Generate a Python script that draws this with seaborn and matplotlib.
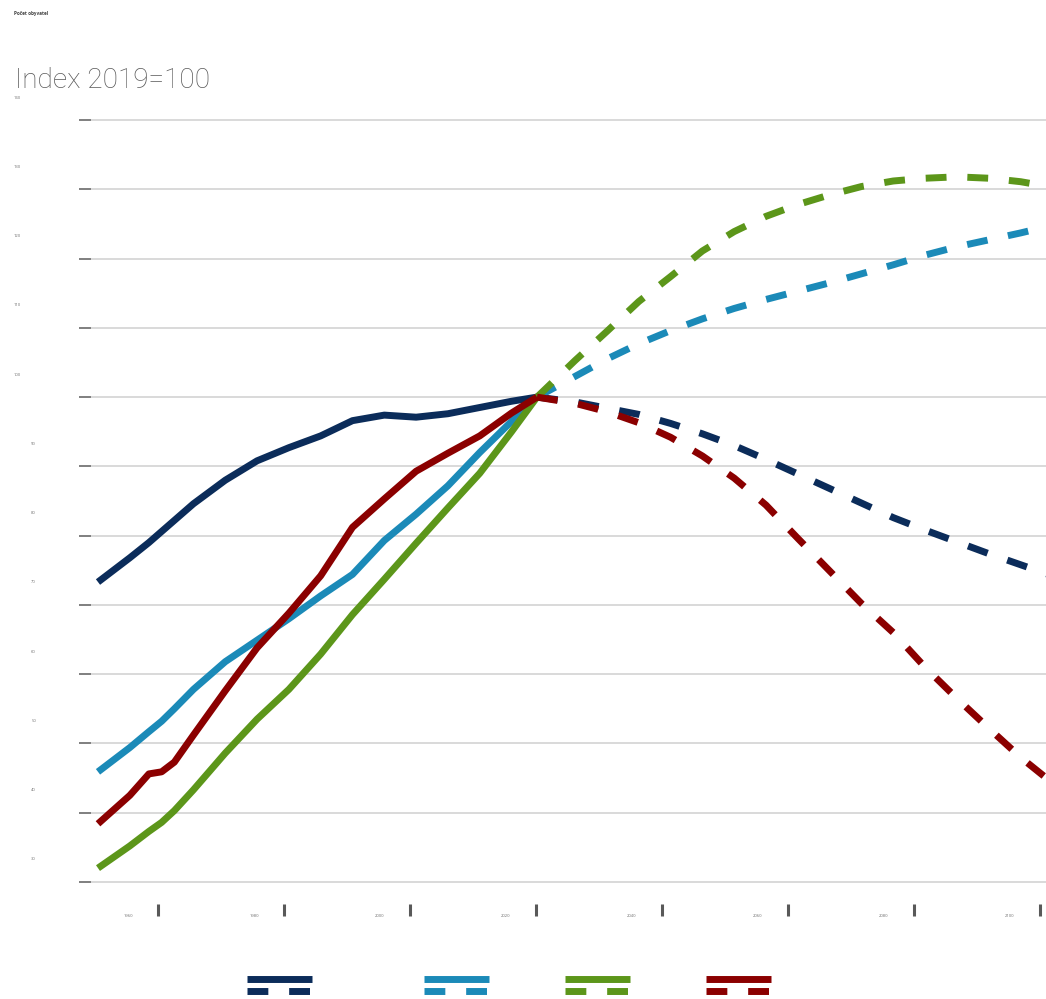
import matplotlib
matplotlib.use('Agg')
import numpy as np
import pandas as pd
import matplotlib.pyplot as plt
import seaborn as sns
from matplotlib.lines import Line2D
from matplotlib.transforms import ScaledTranslation

# Data (index, 2019 = 100)
hist_years = [1950, 1955, 1958, 1960, 1962, 1965, 1970, 1975, 1980, 1985,
              1990, 1995, 2000, 2005, 2010, 2015, 2019]
proj_years = [2019, 2025, 2030, 2035, 2040, 2045, 2050, 2055, 2060, 2065,
              2070, 2075, 2080, 2085, 2090, 2095, 2100]

navy_hist = [73.3, 76.8, 79.0, 80.6, 82.2, 84.6, 88.0, 90.8, 92.7, 94.4,
             96.6, 97.4, 97.1, 97.6, 98.5, 99.4, 100.0]
navy_proj = [100.0, 99.3, 98.4, 97.5, 96.2, 94.7, 93.0, 91.0, 88.9, 86.8,
             84.7, 82.6, 80.8, 79.1, 77.4, 75.8, 74.2]

blue_hist = [45.9, 49.4, 51.7, 53.2, 55.0, 57.8, 61.8, 64.9, 68.0, 71.3,
             74.4, 79.3, 83.1, 87.2, 92.0, 96.5, 100.0]
blue_proj = [100.0, 103.0, 105.5, 107.7, 109.6, 111.3, 112.8, 114.1, 115.3, 116.5,
             117.8, 119.1, 120.5, 121.7, 122.7, 123.7, 124.8]

green_hist = [32.0, 35.2, 37.3, 38.6, 40.3, 43.3, 48.6, 53.5, 57.8, 62.9,
              68.6, 73.7, 78.9, 84.0, 89.0, 95.0, 100.0]
green_proj = [100.0, 105.3, 109.5, 113.8, 117.4, 121.1, 123.9, 126.1, 127.8, 129.2,
              130.4, 131.2, 131.6, 131.8, 131.6, 131.1, 130.3]

red_hist = [38.4, 42.5, 45.6, 45.9, 47.3, 51.2, 57.6, 63.8, 68.8, 74.2,
            81.2, 85.3, 89.3, 91.9, 94.4, 97.7, 100.0]
red_proj = [100.0, 99.1, 97.9, 96.3, 94.2, 91.5, 88.3, 84.4, 79.6, 74.9,
            70.2, 66.0, 61.0, 56.5, 52.2, 48.0, 44.3]

series = ['navy', 'blue', 'green', 'red']
colors = ['#0b2c5a', '#1b8ab8', '#5c961a', '#8b0000']
y_ticks = [30, 40, 50, 60, 70, 80, 90, 100, 110, 120, 130, 140]
x_tick_labels = ['1960', '1980', '2000', '2020', '2040', '2060', '2080', '2100']

rows = []
for name, h, p in zip(series, [navy_hist, blue_hist, green_hist, red_hist],
                      [navy_proj, blue_proj, green_proj, red_proj]):
    rows += [(name, 'hist', y, v) for y, v in zip(hist_years, h)]
    rows += [(name, 'proj', y, v) for y, v in zip(proj_years, p)]
df = pd.DataFrame(rows, columns=['serie', 'faze', 'rok', 'index'])

sns.set_style('white')
plt.rcParams['font.family'] = ['Open Sans', 'DejaVu Sans']

fig = plt.figure(figsize=(10.46, 9.99), dpi=100)
ax = fig.add_axes([79 / 1046, 116 / 999, 967 / 1046, 764 / 999])

sns.lineplot(data=df, x='rok', y='index', hue='serie', style='faze',
             hue_order=series, style_order=['hist', 'proj'],
             palette=dict(zip(series, colors)),
             dashes={'hist': '', 'proj': (3, 3)},
             linewidth=5, legend=False, ax=ax,
             solid_capstyle='butt', solid_joinstyle='round')

# 1950 sits at x=98 px, 2019 at x=537 px
px_per_year = 439 / 69
ax.set_xlim(1950 - 19 / px_per_year, 1950 + 948 / px_per_year)
ax.set_ylim(29.85, 140.15)
ax.set_xlabel('')
ax.set_ylabel('')
for s in ax.spines.values():
    s.set_visible(False)
ax.spines['bottom'].set_position(('outward', 15))

ax.set_yticks(y_ticks, labels=[str(v) for v in y_ticks])
ax.grid(axis='y', color='#d9d9d9', lw=1.4)
ax.grid(axis='x', visible=False)
ax.set_axisbelow(True)
ax.tick_params(axis='y', direction='in', length=8.6, width=1.4, color='#808080',
               labelsize=3, labelcolor='#707070', pad=0, left=True)

x_tick_pos = [1950 + (158 - 98 + 126 * k) / px_per_year for k in range(8)]
ax.set_xticks(x_tick_pos, labels=x_tick_labels)
ax.tick_params(axis='x', direction='out', length=8.6, width=2.2, color='#595959',
               labelsize=3, labelcolor='#707070', pad=-1, bottom=True)

for v, lab in zip(y_ticks, ax.get_yticklabels()):
    dx = -58 if v >= 100 else -43
    lab.set_transform(lab.get_transform() + ScaledTranslation(dx / 100, 23 / 100, fig.dpi_scale_trans))
for lab in ax.get_xticklabels():
    lab.set_transform(lab.get_transform() + ScaledTranslation(-30 / 100, 0, fig.dpi_scale_trans))

fig.text(15 / 1046, 1 - 88 / 999, 'Index 2019=100', fontsize=20.2, color='#595959',
         fontweight='light', family=['Roboto', 'DejaVu Sans'], va='baseline')
fig.text(14 / 1046, 1 - 15 / 999, 'Počet obyvatel', fontsize=3.3, fontweight='bold',
         color='#404040', va='baseline')

# legend: solid (historie) over dashed (projekce), no text
for c, x0 in zip(colors, [247, 424, 565, 706]):
    hs = [Line2D([], [], color=c, lw=5, solid_capstyle='butt'),
          Line2D([], [], color=c, lw=5, dashes=(3, 3))]
    fig.legend(hs, ['', ''], loc='upper left', bbox_to_anchor=(x0 / 1046, 1 - 976 / 999),
               frameon=False, fontsize=6, handlelength=7.8, handletextpad=0,
               borderpad=0, borderaxespad=0, labelspacing=0.45)

fig.savefig('out.png', dpi=100)
